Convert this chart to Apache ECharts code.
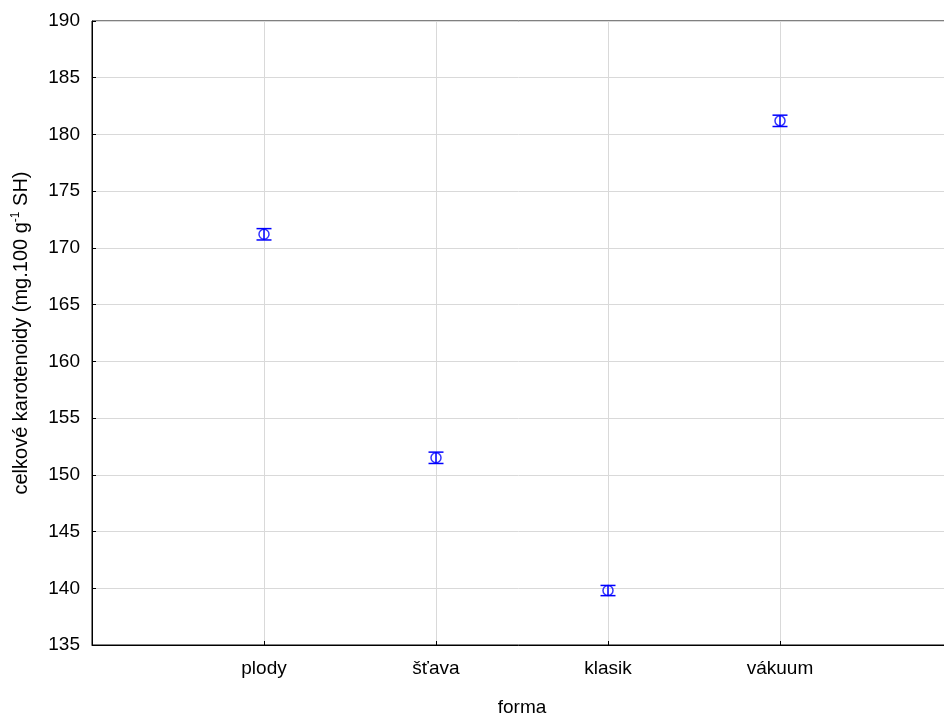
<!DOCTYPE html>
<html>
<head>
<meta charset="utf-8">
<script src="https://cdn.jsdelivr.net/npm/echarts@6/dist/echarts.min.js"></script>
<style>html,body{margin:0;padding:0;background:#fff;overflow:hidden}#c{width:944px;height:715px}</style>
</head>
<body>
<div id="c"></div>
<script>
const categories = ['plody', 'šťava', 'klasik', 'vákuum'];
const means = [171.2, 151.5, 139.8, 181.2];
const errLow = [170.7, 151.0, 139.35, 180.7];
const errHigh = [171.7, 152.0, 140.25, 181.7];
const yTicks = { min: 135, max: 190, step: 5 };

const axisCats = [''].concat(categories, ['']);
const font = 'Liberation Sans, Arial, sans-serif';

const chart = echarts.init(document.getElementById('c'));
chart.setOption({
  animation: false,
  grid: { left: 92, right: -8, top: 21, bottom: 70, show: true, borderColor: '#000', borderWidth: 1,
          backgroundColor: 'transparent', containLabel: false, outerBoundsMode: 'none' },
  xAxis: {
    type: 'category', data: axisCats, boundaryGap: false,
    name: 'forma', nameLocation: 'middle', nameGap: 53,
    nameTextStyle: { fontFamily: font, fontSize: 19, color: '#000' },
    axisLine: { lineStyle: { color: '#000', width: 1 } },
    axisTick: { inside: true, length: 4, lineStyle: { color: '#000' } },
    axisLabel: { fontFamily: font, fontSize: 19, color: '#000', margin: 14, interval: 0 },
    splitLine: { show: true, lineStyle: { color: '#d9d9d9', width: 1 } }
  },
  yAxis: {
    type: 'value', min: yTicks.min, max: yTicks.max, interval: yTicks.step,
    name: 'celkové karotenoidy (mg.100 g{sup|-1} SH)', nameLocation: 'middle', nameGap: 60,
    nameTextStyle: { fontFamily: font, fontSize: 20, color: '#000',
      rich: { sup: { fontFamily: font, fontSize: 12, color: '#000', verticalAlign: 'top', padding: [0, 0, 10, 0] } } },
    axisLine: { show: true, lineStyle: { color: '#000', width: 1 } },
    axisTick: { show: true, inside: true, length: 4, lineStyle: { color: '#000' } },
    axisLabel: { fontFamily: font, fontSize: 19, color: '#000', margin: 12 },
    splitLine: { show: true, lineStyle: { color: '#d9d9d9', width: 1 } }
  },
  series: [
    {
      type: 'custom',
      data: categories.map((c, i) => [c, errLow[i], errHigh[i]]),
      encode: { x: 0, y: [1, 2] },
      renderItem: function (params, api) {
        const lo = api.coord([api.value(0), api.value(1)]);
        const hi = api.coord([api.value(0), api.value(2)]);
        const hw = 7.5;
        const st = { stroke: '#0000ff', lineWidth: 1.5, fill: null };
        return {
          type: 'group',
          children: [
            { type: 'line', shape: { x1: lo[0], y1: lo[1], x2: hi[0], y2: hi[1] }, style: st },
            { type: 'line', shape: { x1: lo[0] - hw, y1: lo[1], x2: lo[0] + hw, y2: lo[1] }, style: st },
            { type: 'line', shape: { x1: hi[0] - hw, y1: hi[1], x2: hi[0] + hw, y2: hi[1] }, style: st }
          ]
        };
      },
      z: 3
    },
    {
      type: 'scatter',
      data: categories.map((c, i) => [c, means[i]]),
      symbol: 'circle', symbolSize: 10,
      itemStyle: { color: 'rgba(0,0,0,0)', borderColor: '#0000ff', borderWidth: 1.5 },
      z: 4
    }
  ]
});
</script>
</body>
</html>
